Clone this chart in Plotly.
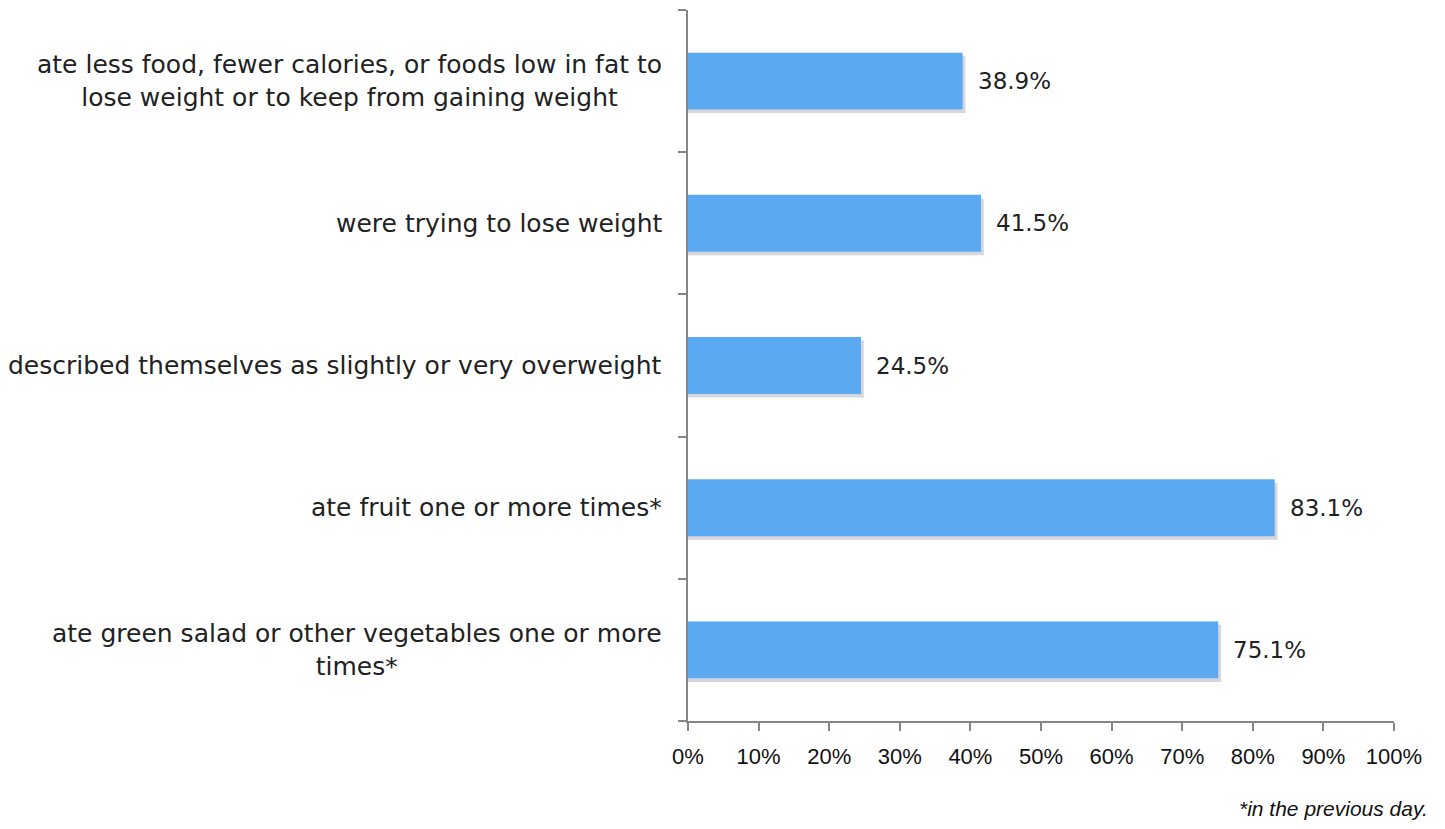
import plotly.graph_objects as go

categories = [
    "ate less food, fewer calories, or foods low in fat to<br>lose weight or to keep from gaining weight",
    "were trying to lose weight",
    "described themselves as slightly or very overweight",
    "ate fruit one or more times*",
    "ate green salad or other vegetables one or more<br>times*",
]
values = [38.9, 41.5, 24.5, 83.1, 75.1]
labels = [f"{v:.1f}%" for v in values]
tick_vals = list(range(0, 101, 10))
tick_text = [f"{t}%" for t in tick_vals]

ids = list(range(len(categories)))
LABEL_FONT = "'DejaVu Sans', sans-serif"
TICK_FONT = "'Liberation Sans', 'Open Sans', sans-serif"
AXIS_COLOR = "#868686"

fig = go.Figure()
# soft shadow
fig.add_trace(go.Bar(
    y=ids, x=[v + 0.4 for v in values], orientation="h",
    width=0.4, offset=-0.175,
    marker=dict(color="rgba(70,70,90,0.22)", line=dict(width=0)),
    hoverinfo="skip", showlegend=False,
))
fig.add_trace(go.Bar(
    y=ids, x=values, orientation="h",
    width=0.4, offset=-0.2,
    marker=dict(color="#5AA9F1", line=dict(width=0)),
    showlegend=False,
))

# value labels
for i, (v, t) in enumerate(zip(values, labels)):
    fig.add_annotation(
        x=v, xref="x", xanchor="left", xshift=13,
        y=i, yref="y", yanchor="middle",
        text=t, showarrow=False,
        font=dict(family=LABEL_FONT, size=23, color="#222222"),
    )

# category labels
for i, c in enumerate(categories):
    fig.add_annotation(
        x=0, xref="paper", xanchor="right", xshift=-24,
        y=i, yref="y", yanchor="middle",
        text=c, showarrow=False, align="center",
        font=dict(family=LABEL_FONT, size=25, color="#222222"),
    )

fig.add_annotation(
    x=1.0, xref="paper", xanchor="right", xshift=36,
    y=0, yref="paper", yanchor="top", yshift=-74,
    text="<i>*in the previous day.</i>", showarrow=False,
    font=dict(family=TICK_FONT, size=21, color="#111111"),
)

fig.update_layout(
    width=1445, height=829,
    margin=dict(l=688, r=51, t=10, b=108),
    paper_bgcolor="white", plot_bgcolor="white",
    barmode="overlay",
)

fig.update_xaxes(
    range=[0, 100], tickvals=tick_vals, ticktext=tick_text,
    showgrid=False, zeroline=False, showline=True, linecolor=AXIS_COLOR, linewidth=1.5,
    ticks="outside", ticklen=8, tickcolor=AXIS_COLOR, tickwidth=1.5,
    tickfont=dict(family=TICK_FONT, size=22, color="#111111"), ticklabelstandoff=7,
)
fig.update_yaxes(
    range=[len(categories) - 0.5, -0.5], tickvals=ids, showticklabels=False,
    showgrid=False, zeroline=False, showline=True, linecolor=AXIS_COLOR, linewidth=1.5,
    ticks="",
    minor=dict(tickvals=[i - 0.5 for i in range(len(categories) + 1)],
               ticks="outside", ticklen=8, tickcolor=AXIS_COLOR, tickwidth=1.5),
)

fig.write_html("out.html")
